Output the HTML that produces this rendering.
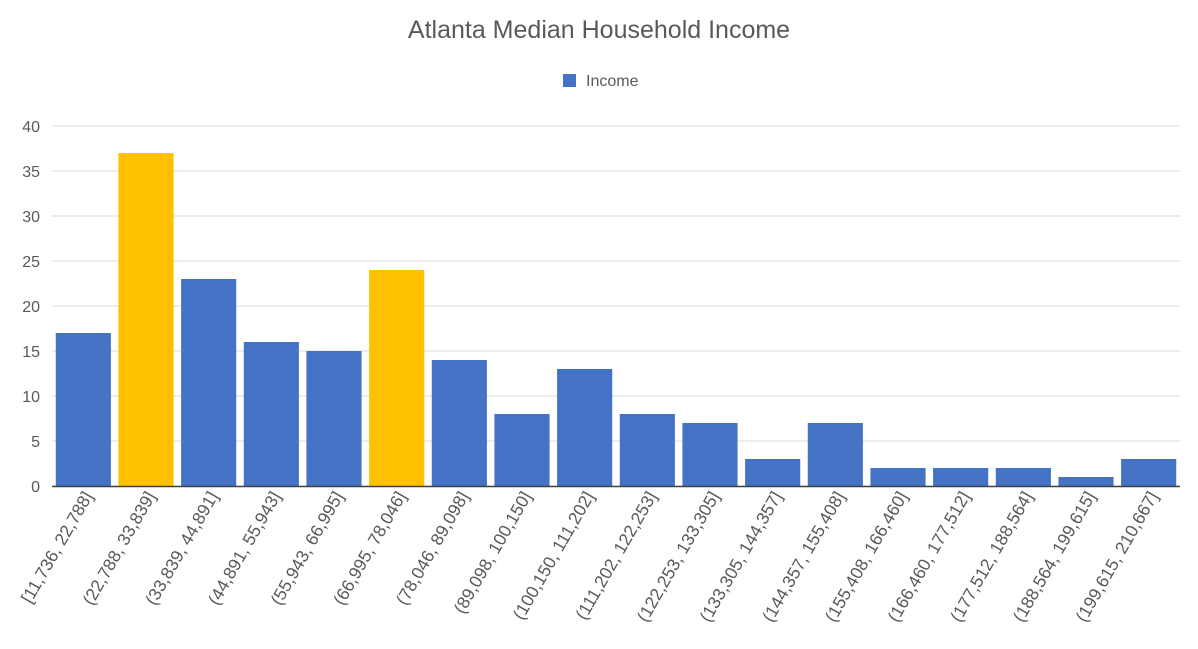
<!DOCTYPE html>
<html><head><meta charset="utf-8">
<style>
html,body{margin:0;padding:0;background:#fff;}
svg{display:block;font-family:"Liberation Sans",sans-serif;}
</style></head>
<body>
<svg id="chart" width="1198" height="649">
<text x="599" y="38" text-anchor="middle" font-size="25" fill="#595959">Atlanta Median Household Income</text>
<g>
<rect x="563" y="74" width="13" height="13" fill="#4472C4"></rect>
<text x="586" y="86" font-size="16" fill="#595959">Income</text>
</g>
<g id="grid"></g><g id="bars"></g><g id="xlabels"></g><g id="ylabels"></g>
<line x1="52" x2="1180" y1="486.5" y2="486.5" stroke="#404040" stroke-width="1.5"></line>
</svg>
<script>
const categories=["[11,736, 22,788]","(22,788, 33,839]","(33,839, 44,891]","(44,891, 55,943]","(55,943, 66,995]","(66,995, 78,046]","(78,046, 89,098]","(89,098, 100,150]","(100,150, 111,202]","(111,202, 122,253]","(122,253, 133,305]","(133,305, 144,357]","(144,357, 155,408]","(155,408, 166,460]","(166,460, 177,512]","(177,512, 188,564]","(188,564, 199,615]","(199,615, 210,667]"];
const values=[17,37,23,16,15,24,14,8,13,8,7,3,7,2,2,2,1,3];
const highlighted=[1,5];
const yTicks=[0,5,10,15,20,25,30,35,40];
const NS="http://www.w3.org/2000/svg";
const X0=52,X1=1180,Y0=486,Y1=126,YMAX=40;
const pitch=(X1-X0)/categories.length;
const yScale=v=>Y0-(v/YMAX)*(Y0-Y1);
const xScale=i=>X0+i*pitch;
function mk(tag,attrs,parent){const e=document.createElementNS(NS,tag);for(const k in attrs)e.setAttribute(k,attrs[k]);parent.appendChild(e);return e;}
const grid=document.getElementById('grid'),ylab=document.getElementById('ylabels');
yTicks.forEach(t=>{
 const y=yScale(t);
 const l=mk('line',{x1:X0,x2:X1,y1:y,y2:y,stroke:'#D9D9D9','stroke-width':1},grid);
 
 
 const tx=mk('text',{x:40,y:y+6,'text-anchor':'end','font-size':16,fill:'#595959'},ylab);
 tx.textContent=t;
 
 
});
const bars=document.getElementById('bars'),xl=document.getElementById('xlabels');
values.forEach((v,i)=>{
 const w=pitch*0.88;
 const x=xScale(i)+(pitch-w)/2;
 const r=mk('rect',{x:x,y:yScale(v),width:w,height:Y0-yScale(v),fill:highlighted.includes(i)?'#FFC000':'#4472C4'},bars);
 
 
 const cx=xScale(i)+pitch/2+10, cy=Y0+10;
 const t=mk('text',{x:cx,y:cy,'text-anchor':'end','font-size':17.5,fill:'#595959',transform:`rotate(-60 ${cx} ${cy})`},xl);
 t.textContent=categories[i];
 
 
});
</script>
</body></html>
